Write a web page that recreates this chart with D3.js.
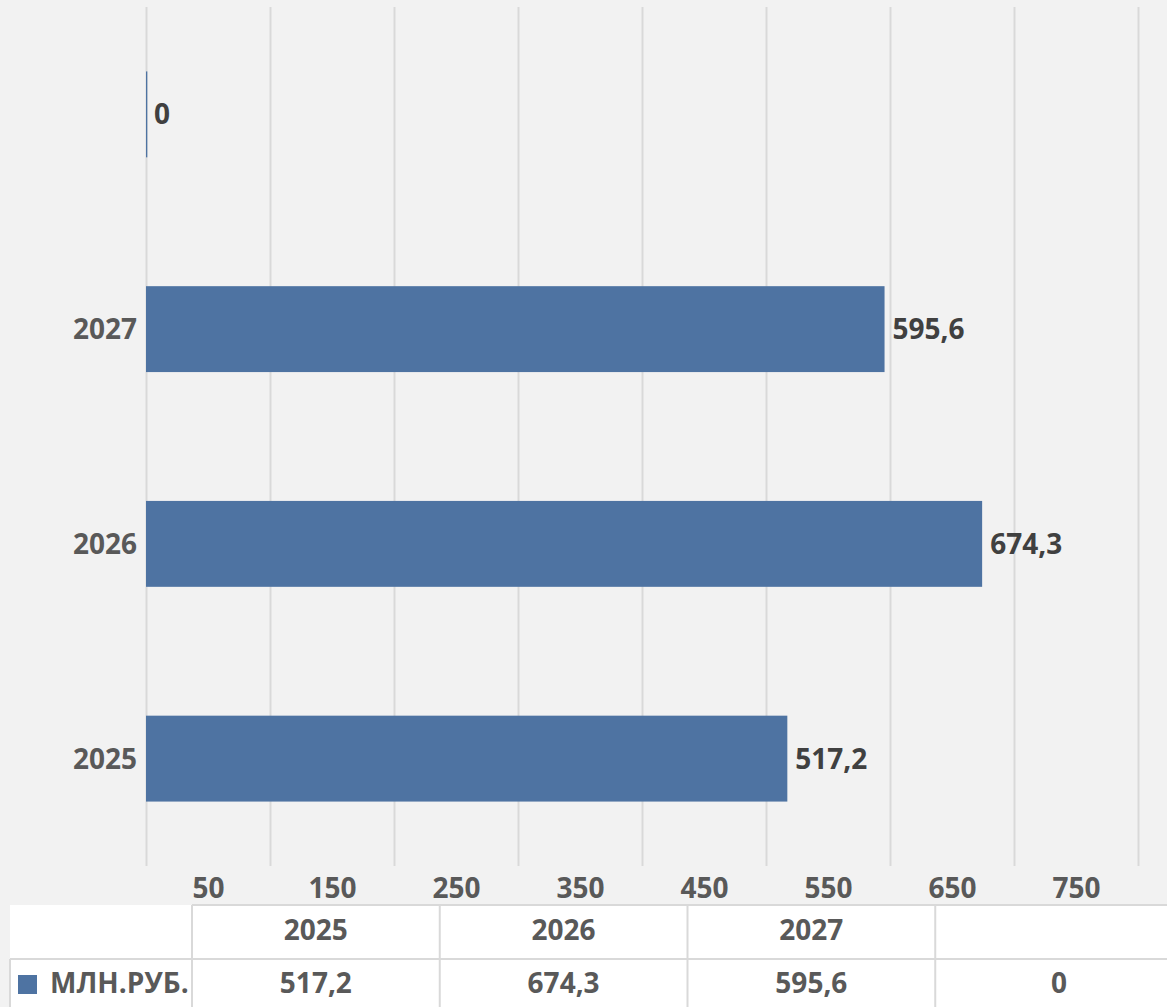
<!DOCTYPE html>
<html>
<head>
<meta charset="utf-8">
<script src="https://cdn.jsdelivr.net/npm/d3@7"></script>
<style>
  html, body { margin: 0; padding: 0; background: #f2f2f2; }
  svg { display: block; }
  text { font-family: "Open Sans", "Noto Sans", sans-serif; font-weight: 700; }
</style>
</head>
<body>
<svg id="chart" width="1167" height="1007"></svg>
<script>
// ---- data ----
const categories = ["2025", "2026", "2027", ""];
const values = [517.2, 674.3, 595.6, 0];
const seriesName = "МЛН.РУБ.";
const gridTicks = [0, 100, 200, 300, 400, 500, 600, 700, 800];
const tickLabels = [50, 150, 250, 350, 450, 550, 650, 750];

const fmt = v => String(v).replace(".", ",");

const W = 1167, H = 1007;
const barColor = "#4e73a2";
const gridColor = "#d9d9d9";
const labelColor = "#595959";
const valueColor = "#404040";

const svg = d3.select("#chart");
svg.append("rect").attr("width", W).attr("height", H).attr("fill", "#f2f2f2");

const plot = { left: 146, right: 1138, top: 7, bottom: 866 };

const x = d3.scaleLinear().domain([0, 800]).range([plot.left, plot.right]);
const y = d3.scaleBand()
  .domain(categories.slice().reverse())
  .range([plot.top, plot.bottom])
  .paddingInner(0.6)
  .paddingOuter(0.3);

// gridlines
const grid = svg.append("g")
  .attr("transform", `translate(0,${plot.bottom})`)
  .call(d3.axisBottom(x).tickValues(gridTicks).tickSize(-(plot.bottom - plot.top)).tickFormat(""));
grid.select(".domain").remove();
grid.selectAll(".tick line").attr("stroke", gridColor).attr("stroke-width", 2);

// bottom tick labels (between gridlines)
const xAxis = svg.append("g")
  .attr("transform", `translate(0,${plot.bottom})`)
  .call(d3.axisBottom(x).tickValues(tickLabels).tickSize(0).tickPadding(0));
xAxis.select(".domain").remove();
xAxis.selectAll(".tick text")
  .attr("y", 32).attr("dy", 0)
  .attr("fill", labelColor)
  .style("font-size", "28px");

// y axis labels
const yAxis = svg.append("g")
  .attr("transform", `translate(${plot.left},0)`)
  .call(d3.axisLeft(y).tickSize(0).tickPadding(9));
yAxis.select(".domain").remove();
yAxis.selectAll(".tick text")
  .attr("fill", labelColor)
  .attr("dy", "0.36em")
  .style("font-size", "28px");

// bars (a zero value still shows as a hairline, as in the original)
svg.append("g").selectAll("rect")
  .data(categories.map((c, i) => ({ c, v: values[i] })))
  .join("rect")
  .attr("x", x(0))
  .attr("y", d => y(d.c))
  .attr("width", d => Math.max(x(d.v) - x(0), 1.3))
  .attr("height", y.bandwidth())
  .attr("fill", barColor);

// value labels
svg.append("g").selectAll("text")
  .data(categories.map((c, i) => ({ c, v: values[i] })))
  .join("text")
  .attr("x", d => x(d.v) + 8)
  .attr("y", d => y(d.c) + y.bandwidth() / 2)
  .attr("dy", "0.36em")
  .attr("fill", valueColor)
  .style("font-size", "28px")
  .text(d => fmt(d.v));

// ---- data table ----
const tbl = { left: 10, first: 192, colW: 247.75, top: 905, rowH: 54 };
const colX = d3.scaleBand().domain(categories)
  .range([tbl.first, tbl.first + tbl.colW * categories.length]);
const t = svg.append("g");
t.append("rect").attr("x", tbl.left).attr("y", tbl.top)
  .attr("width", W - tbl.left).attr("height", H - tbl.top).attr("fill", "#ffffff");
t.append("line").attr("x1", tbl.first).attr("x2", W).attr("y1", tbl.top).attr("y2", tbl.top)
  .attr("stroke", gridColor).attr("stroke-width", 2);
t.append("line").attr("x1", tbl.left).attr("x2", W).attr("y1", tbl.top + tbl.rowH).attr("y2", tbl.top + tbl.rowH)
  .attr("stroke", gridColor).attr("stroke-width", 2);
t.append("line").attr("x1", tbl.left).attr("x2", tbl.left).attr("y1", tbl.top + tbl.rowH).attr("y2", H)
  .attr("stroke", gridColor).attr("stroke-width", 2);
t.selectAll("line.col").data(categories).join("line").attr("class", "col")
  .attr("x1", d => colX(d)).attr("x2", d => colX(d))
  .attr("y1", tbl.top).attr("y2", H)
  .attr("stroke", gridColor).attr("stroke-width", 2);
t.selectAll("text.hdr").data(categories).join("text").attr("class", "hdr")
  .attr("x", d => colX(d) + colX.bandwidth() / 2)
  .attr("y", tbl.top + 35)
  .attr("text-anchor", "middle")
  .attr("fill", labelColor)
  .style("font-size", "28px")
  .text(d => d);
t.selectAll("text.val").data(values).join("text").attr("class", "val")
  .attr("x", (d, i) => colX(categories[i]) + colX.bandwidth() / 2)
  .attr("y", tbl.top + tbl.rowH + 34)
  .attr("text-anchor", "middle")
  .attr("fill", labelColor)
  .style("font-size", "28px")
  .text(d => fmt(d));
t.append("rect").attr("x", 18).attr("y", 975).attr("width", 19).attr("height", 19).attr("fill", barColor);
t.append("text").attr("x", 50).attr("y", tbl.top + tbl.rowH + 34)
  .attr("fill", labelColor).style("font-size", "28px").text(seriesName);
</script>
</body>
</html>
